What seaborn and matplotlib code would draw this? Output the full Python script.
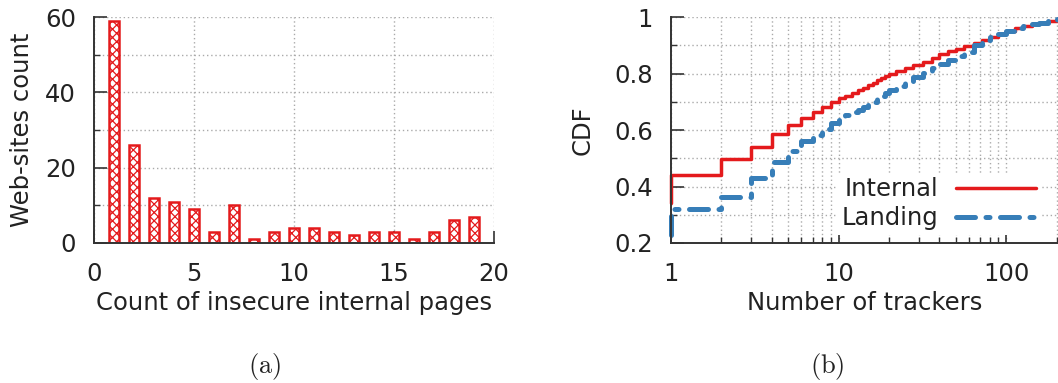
import numpy as np
import pandas as pd
import matplotlib
matplotlib.use("Agg")
import matplotlib.pyplot as plt
from matplotlib.ticker import MultipleLocator, LogLocator, NullFormatter, FixedLocator, FuncFormatter
import seaborn as sns

# (a) histogram of insecure internal pages per web-site
pages = [1, 2, 3, 4, 5, 6, 7, 8, 9, 10, 11, 12, 13, 14, 15, 16, 17, 18, 19]
site_counts = [59, 26, 12, 11, 9, 3, 10, 1, 3, 4, 4, 3, 2, 3, 3, 1, 3, 6, 7]

# (b) CDF of number of trackers (first point repeated: vertical start at x=1)
internal_x = [1, 1, 2, 3, 4, 5, 6, 7, 8, 9, 10, 11, 12, 13, 14, 15, 16, 17, 18, 19, 20,
              22, 25, 28, 32, 36, 40, 45, 50, 56, 64, 72, 80, 90, 100, 113, 126, 142, 158, 178, 200]
internal_cdf = [0.34, 0.44, 0.496, 0.541, 0.585, 0.618, 0.641, 0.663, 0.683, 0.700, 0.712, 0.722,
                0.731, 0.742, 0.750, 0.759, 0.768, 0.776, 0.784, 0.792, 0.800,
                0.808, 0.818, 0.829, 0.842, 0.855, 0.868, 0.878, 0.888, 0.897, 0.907, 0.919,
                0.930, 0.941, 0.951, 0.960, 0.968, 0.974, 0.979, 0.986, 0.992]
landing_x = [1, 1, 2, 3, 4, 5, 6, 7, 8, 9, 10, 11, 12, 13, 14, 15, 16, 17, 18, 19, 20,
             22, 25, 28, 32, 36, 40, 45, 50, 56, 64, 72, 80, 90, 100, 113, 126, 142, 158, 178, 200]
landing_cdf = [0.228, 0.32, 0.364, 0.429, 0.488, 0.527, 0.561, 0.582, 0.602, 0.624, 0.638, 0.652,
               0.663, 0.672, 0.680, 0.688, 0.700, 0.711, 0.722, 0.732, 0.742,
               0.755, 0.772, 0.786, 0.803, 0.818, 0.833, 0.848, 0.862, 0.877, 0.902, 0.918,
               0.930, 0.941, 0.951, 0.960, 0.968, 0.974, 0.979, 0.986, 0.992]

RED = "#e41a1c"
BLUE = "#377eb8"
TEXT = "#222222"
GRID = "#aaaaaa"
DASH_DOT = [3.8, 2.1, 0.8, 2.1]

sns.set_style("ticks")
plt.rcParams["font.family"] = ["DejaVu Sans"]
plt.rcParams["mathtext.fontset"] = "cm"
plt.rcParams["hatch.linewidth"] = 0.9
plt.rcParams["hatch.color"] = RED

FS = 17.5
W, H = 1058, 383
fig = plt.figure(figsize=(W / 100, H / 100), dpi=100)


def px_axes(x0, x1, y0, y1):
    return fig.add_axes([x0 / W, (H - y1) / H, (x1 - x0) / W, (y1 - y0) / H])


def style_axes(ax):
    for s in ("top", "right"):
        ax.spines[s].set_visible(False)
    for s in ("left", "bottom"):
        ax.spines[s].set_color("#333333")
        ax.spines[s].set_linewidth(1.4)
    ax.tick_params(which="major", direction="in", length=9, width=1.2, colors="#333333",
                   labelcolor=TEXT, labelsize=FS)
    ax.tick_params(axis="x", which="major", pad=14)
    ax.tick_params(axis="y", which="major", pad=13)
    ax.tick_params(which="minor", direction="in", length=4.5, width=1.0, colors="#333333")
    ax.set_axisbelow(True)


# ---------- (a) bar chart ----------
ax1 = px_axes(94, 494, 17, 243)
df_a = pd.DataFrame({"pages": pages, "count": site_counts})
sns.barplot(data=df_a, x="pages", y="count", native_scale=True, width=0.5,
            color="white", edgecolor=RED, linewidth=1.8, hatch="xxxx", ax=ax1)
ax1.set_xlim(0, 20)
ax1.set_ylim(0, 60)
ax1.xaxis.set_major_locator(MultipleLocator(5))
ax1.yaxis.set_major_locator(MultipleLocator(20))
ax1.yaxis.set_minor_locator(MultipleLocator(10))
ax1.grid(which="major", axis="x", linestyle=(0, (1, 2)), color=GRID, linewidth=1)
ax1.grid(which="both", axis="y", linestyle=(0, (1, 2)), color=GRID, linewidth=1)
style_axes(ax1)
ax1.set_xlabel("Count of insecure internal pages", fontsize=FS, color=TEXT, labelpad=3)
ax1.set_ylabel("Web-sites count", fontsize=FS, color=TEXT, labelpad=8)

# ---------- (b) CDF ----------
ax2 = px_axes(671, 1058, 17, 243)
sns.lineplot(x=internal_x, y=internal_cdf, estimator=None, sort=False, drawstyle="steps-post",
             color=RED, linewidth=2.5, label="Internal", ax=ax2, clip_on=False)
sns.lineplot(x=landing_x, y=landing_cdf, estimator=None, sort=False, drawstyle="steps-post",
             color=BLUE, linewidth=3.6, label="Landing", ax=ax2, clip_on=False,
             dashes=False)
blue_line = ax2.get_lines()[1]
blue_line.set_dashes(DASH_DOT)
blue_line.set_dash_capstyle("round")
ax2.set_xscale("log")
ax2.set_xlim(1, 204)
ax2.set_ylim(0.2, 1.0)
ax2.xaxis.set_major_locator(FixedLocator([1, 10, 100]))
ax2.xaxis.set_major_formatter(FuncFormatter(lambda v, p: f"{v:g}"))
ax2.xaxis.set_minor_locator(LogLocator(base=10, subs=np.arange(2, 10)))
ax2.xaxis.set_minor_formatter(NullFormatter())
ax2.yaxis.set_major_locator(FixedLocator([0.2, 0.4, 0.6, 0.8, 1.0]))
ax2.yaxis.set_major_formatter(FuncFormatter(lambda v, p: f"{v:g}"))
ax2.yaxis.set_minor_locator(MultipleLocator(0.1))
ax2.grid(which="both", linestyle=(0, (1, 2)), color=GRID, linewidth=1)
style_axes(ax2)
ax2.set_xlabel("Number of trackers", fontsize=FS, color=TEXT, labelpad=3)
ax2.set_ylabel("CDF", fontsize=FS, color=TEXT, labelpad=14)

handles, labels = ax2.get_legend_handles_labels()
leg = ax2.legend(handles, labels, loc="lower right", bbox_to_anchor=(0.955, 0.035),
                 markerfirst=False, fontsize=FS, frameon=True, framealpha=1,
                 facecolor="white", edgecolor="none", fancybox=False,
                 handlelength=3.3, handletextpad=0.7, borderpad=0.2,
                 labelspacing=0.2, borderaxespad=0)
for t in leg.get_texts():
    t.set_color(TEXT)
leg.legend_handles[1].set_dashes(DASH_DOT)
leg.legend_handles[1].set_dash_capstyle("round")

fig.text(265 / W, 1 - 367 / H, r"$(\mathrm{a})$", ha="center", va="center", fontsize=19, color=TEXT)
fig.text(827 / W, 1 - 367 / H, r"$(\mathrm{b})$", ha="center", va="center", fontsize=19, color=TEXT)

fig.savefig("out.png", dpi=100)
